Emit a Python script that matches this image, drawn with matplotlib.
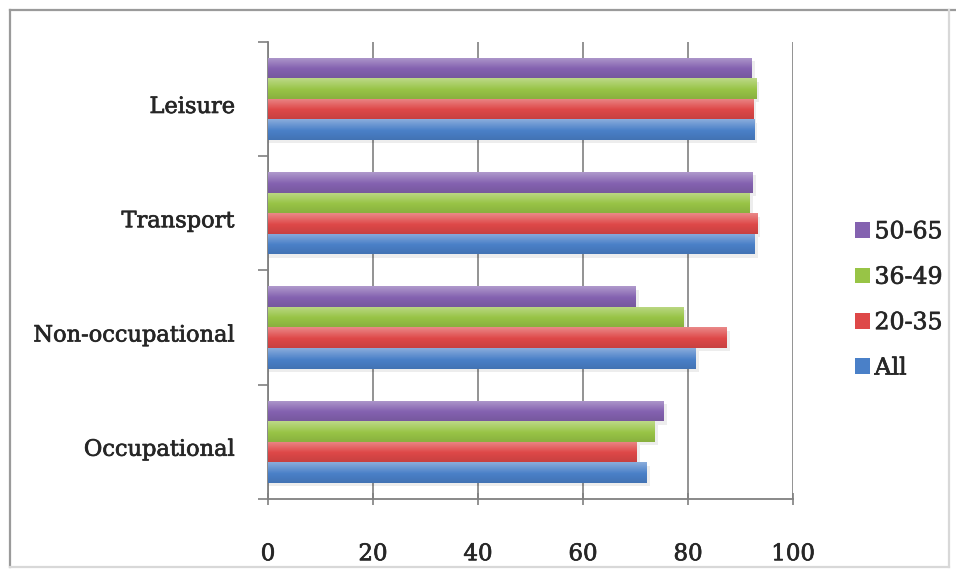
import numpy as np
import matplotlib
matplotlib.use("Agg")
import matplotlib.pyplot as plt
import matplotlib.patheffects as pe
from matplotlib.lines import Line2D
from matplotlib.patches import Rectangle, Patch
from matplotlib.transforms import ScaledTranslation

plt.rcParams["font.family"] = ["DejaVu Serif"]

categories = ["Occupational", "Non-occupational", "Transport", "Leisure"]
groups = ["All", "20-35", "36-49", "50-65"]
all_ages = [72.1, 81.5, 92.7, 92.6]
age_20_35 = [70.2, 87.4, 93.2, 92.4]
age_36_49 = [73.6, 79.1, 91.8, 93.0]
age_50_65 = [75.4, 70.0, 92.3, 92.1]
series = [all_ages, age_20_35, age_36_49, age_50_65]
colors = ["#4a80c8", "#de4848", "#98c446", "#8462b0"]
INK = "#262626"
BOLDEN = [pe.withStroke(linewidth=0.5, foreground=INK)]

fig = plt.figure(figsize=(9.56, 5.79), dpi=100)
fig.patch.set_facecolor("white")
# chart frame: darker top/left edge, faint right/bottom edge
L, R, B, T = 0.0105, 0.9927, 0.0207, 0.983
for xs, ys, c in [([L, 1.0], [T, T], "#9a9a9a"), ([L, L], [B, T], "#9a9a9a"),
                  ([R, R], [B, T], "#d8d8d8"), ([L, R], [B, B], "#d8d8d8")]:
    fig.add_artist(Line2D(xs, ys, transform=fig.transFigure, color=c, lw=1.6))
ax = fig.add_axes([0.2803, 0.1385, 0.5492, 0.7893])

bar_h = 0.18
y = np.arange(len(categories))
offsets = (np.arange(len(groups)) - 1.5) * bar_h


def shade(bar, base):
    # vertical gradient: light top, saturated middle, slightly darker bottom
    rgb = np.array(matplotlib.colors.to_rgb(base))
    t = np.linspace(0, 1, 32)[:, None]
    light = rgb + (1 - rgb) * 0.35
    dark = rgb * 0.9
    col = np.where(t < 0.55, light + (rgb - light) * (t / 0.55),
                   rgb + (dark - rgb) * ((t - 0.55) / 0.45))
    img = col[:, None, :].repeat(2, axis=1)
    x0, y0 = bar.get_x(), bar.get_y()
    w, h = bar.get_width(), bar.get_height()
    im = ax.imshow(img, extent=[x0, x0 + w, y0, y0 + h], origin="upper",
                   aspect="auto", zorder=3, interpolation="bilinear")
    im.set_clip_path(bar)


for vals, off, c in zip(series, offsets, colors):
    bars = ax.barh(y + off, vals, height=bar_h, color=c, zorder=3)
    for b in bars:
        # soft drop shadow
        ax.add_patch(Rectangle((b.get_x(), b.get_y() - 0.03), b.get_width() + 0.6,
                               b.get_height(), facecolor="#000000", alpha=0.07,
                               zorder=2, lw=0))
        shade(b, c)

ax.set_xlim(0, 100)
ax.set_ylim(-0.5, 3.5)
ax.set_xticks(np.arange(0, 101, 20))
ax.set_yticks(y)
ax.set_yticklabels(categories)
ax.set_yticks(np.arange(-0.5, 3.6, 1), minor=True)
ax.tick_params(axis="y", which="major", length=0, pad=24, labelsize=16.2)
ax.tick_params(axis="y", which="minor", length=7, color="#808080", width=1.2)
ax.tick_params(axis="x", length=8, color="#808080", width=1.2, pad=28, labelsize=16.5,
               direction="inout")
ax.grid(axis="x", color="#8a8a8a", lw=1.3, zorder=1)
for s in ["top", "right"]:
    ax.spines[s].set_visible(False)
for s in ["left", "bottom"]:
    ax.spines[s].set_color("#808080")
    ax.spines[s].set_linewidth(1.3)
ax.set_axisbelow(True)
nudge = ScaledTranslation(0, -4 / 72, fig.dpi_scale_trans)
for lbl in ax.get_yticklabels():
    lbl.set_transform(lbl.get_transform() + nudge)
for lbl in ax.get_xticklabels() + ax.get_yticklabels():
    lbl.set_color(INK)
    lbl.set_path_effects(BOLDEN)

handles = [Patch(facecolor=c, label=g) for g, c in zip(groups, colors)][::-1]
leg = fig.legend(handles=handles, loc="center left", bbox_to_anchor=(0.894, 0.482),
                 frameon=False, fontsize=17, handlelength=0.64, handleheight=0.64,
                 handletextpad=0.2, labelspacing=0.95, labelcolor=INK,
                 borderpad=0, borderaxespad=0)
for t in leg.get_texts():
    t.set_path_effects(BOLDEN)

fig.savefig("out.png", dpi=100, facecolor="white")
